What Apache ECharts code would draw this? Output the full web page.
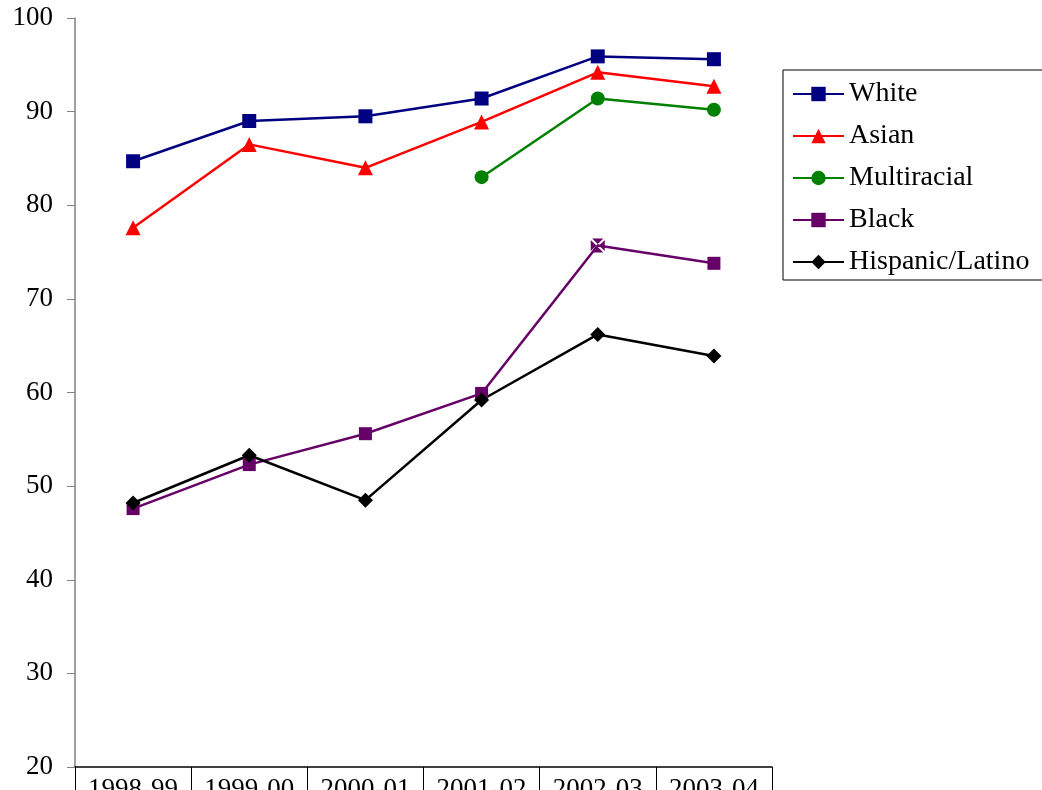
<!DOCTYPE html>
<html><head><meta charset="utf-8">
<script src="https://cdn.jsdelivr.net/npm/echarts@6/dist/echarts.min.js"></script>
<style>html,body{margin:0;padding:0;background:#fff}#c{width:1042px;height:790px}</style>
</head><body><div id="c"></div>
<script>
const categories = ['1998-99','1999-00','2000-01','2001-02','2002-03','2003-04'];
const white = [84.7, 89.0, 89.5, 91.4, 95.9, 95.6];
const asian = [77.6, 86.5, 84.0, 88.9, 94.2, 92.7];
const multiracial = ['-', '-', '-', 83.0, 91.4, 90.2];
const black = [47.6, 52.3, 55.6, 59.9, 75.7, 73.8];
const hispanic = [48.2, 53.3, 48.5, 59.2, 66.2, 63.9];
const yTicks = {min: 20, max: 100, interval: 10};

const font = '"Liberation Serif", "Times New Roman", serif';
const xSquare = 'path://M1,0L9,0L5,4ZM1,10L9,10L5,6ZM0,1L0,9L4,5ZM10,1L10,9L6,5Z';

function mk(name, data, color, symbol, size) {
  return {
    name, type: 'line', data, symbol, symbolSize: size,
    showAllSymbol: true, connectNulls: false,
    lineStyle: {color, width: 2.5}, itemStyle: {color},
    z: 2
  };
}
const blackData = black.map((v, i) => i === 4 ? {value: v, symbol: xSquare, symbolSize: 14} : v);

const chart = echarts.init(document.getElementById('c'), null, {renderer: 'canvas'});
chart.setOption({
  animation: false,
  backgroundColor: '#fff',
  grid: {left: 75, top: 18, right: 270, bottom: 23, containLabel: false, outerBoundsMode: 'none'},
  xAxis: {
    type: 'category', data: categories, boundaryGap: true,
    axisLine: {lineStyle: {color: '#000', width: 1.5}},
    axisTick: {show: true, interval: 0, length: 30, lineStyle: {color: '#000', width: 1}},
    axisLabel: {color: '#000', fontFamily: font, fontSize: 27, margin: 9, interval: 0}
  },
  yAxis: {
    type: 'value', min: yTicks.min, max: yTicks.max, interval: yTicks.interval,
    axisLine: {show: true, lineStyle: {color: '#808080', width: 1.5}},
    axisTick: {show: true, length: 8, lineStyle: {color: '#808080'}},
    splitLine: {show: false},
    axisLabel: {color: '#000', fontFamily: font, fontSize: 27, margin: 22}
  },
  legend: {
    left: 783, top: 70, orient: 'vertical',
    borderColor: '#000', borderWidth: 1, padding: [9, 30, 3, 9],
    itemWidth: 51, itemHeight: 18, itemGap: 12,
    textStyle: {color: '#000', fontFamily: font, fontSize: 28, padding: [0, 0, 0, 0], lineHeight: 30},
    data: ['White','Asian','Multiracial','Black','Hispanic/Latino']
  },
  series: [
    mk('White', white, '#000080', 'rect', 14),
    mk('Asian', asian, '#FF0000', 'triangle', 15),
    mk('Multiracial', multiracial, '#008000', 'circle', 14),
    mk('Black', blackData, '#660066', 'rect', 13),
    mk('Hispanic/Latino', hispanic, '#000000', 'diamond', 15)
  ]
});
</script></body></html>
